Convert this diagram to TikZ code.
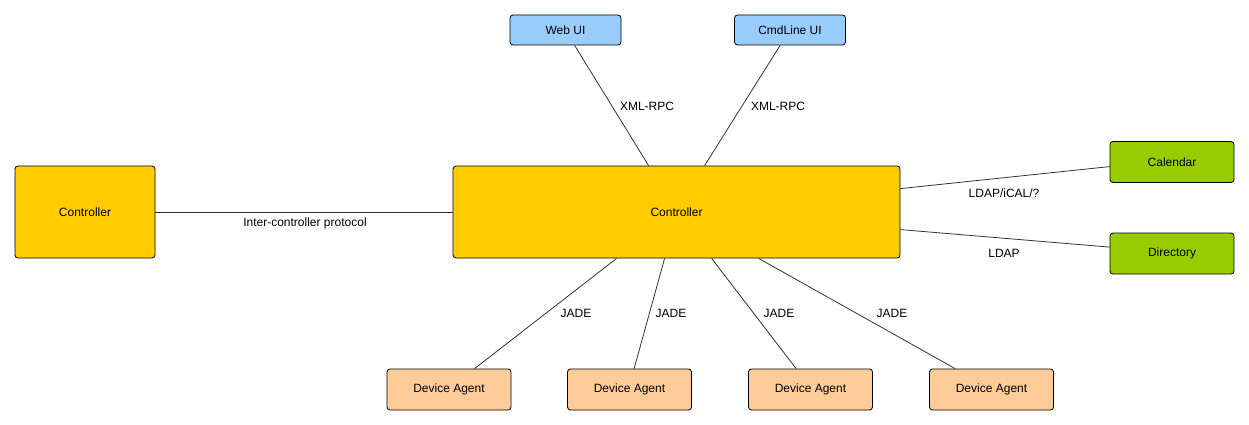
\documentclass[tikz,border=0pt]{standalone}
\usepackage{fontspec}
\setmainfont{Liberation Sans}
\begin{document}
\begin{tikzpicture}[x=1pt,y=-1pt,
  box/.style={draw=black,line width=0.8pt,rounded corners=3pt,inner sep=0pt,font=\fontsize{12}{14}\selectfont},
  ui/.style={box,fill=uiblue,minimum width=111pt,minimum height=30pt},
  ctrl/.style={box,fill=ctrlyellow,minimum height=92pt},
  ext/.style={box,fill=extgreen,minimum width=124pt,minimum height=41pt},
  agent/.style={box,fill=agentorange,minimum width=124pt,minimum height=41pt},
  conn/.style={draw=linegray,line width=0.8pt},
  lbl/.style={inner sep=0pt,font=\fontsize{12}{14}\selectfont}]
\definecolor{uiblue}{HTML}{99CCFF}
\definecolor{ctrlyellow}{HTML}{FFCC00}
\definecolor{extgreen}{HTML}{99CC00}
\definecolor{agentorange}{HTML}{FFCC99}
\definecolor{linegray}{HTML}{333333}
\fill[white] (0,0) rectangle (1249,425);
\useasboundingbox (0,0) rectangle (1249,425);

\node[ui] (web) at (565.5,30) {Web UI};
\node[ui] (cmd) at (790,30) {CmdLine UI};
\node[ctrl,minimum width=447pt] (main) at (676.5,212) {Controller};
\node[ctrl,minimum width=140pt] (left) at (85,212) {Controller};
\node[ext] (cal) at (1172,162) {Calendar};
\node[ext] (dir) at (1172,253.5) {Directory};
\node[agent] (a1) at (449,389.5) {Device Agent};
\node[agent] (a2) at (629.5,389.5) {Device Agent};
\node[agent] (a3) at (810.5,389.5) {Device Agent};
\node[agent] (a4) at (991.5,389.5) {Device Agent};

\draw[conn] ([xshift=65pt]web.south west) -- ([xshift=196pt]main.north west);
\draw[conn] ([xshift=46pt]cmd.south west) -- ([xshift=252pt]main.north west);
\draw[conn] (left.east) -- (main.west);
\draw[conn] ([yshift=-23pt]main.north east) -- ([yshift=-25.5pt]cal.north west);
\draw[conn] ([yshift=-64pt]main.north east) -- ([yshift=-14.5pt]dir.north west);
\draw[conn] ([xshift=164pt]main.south west) -- ([xshift=88pt]a1.north west);
\draw[conn] ([xshift=212pt]main.south west) -- ([xshift=67pt]a2.north west);
\draw[conn] ([xshift=259pt]main.south west) -- ([xshift=48pt]a3.north west);
\draw[conn] ([xshift=306pt]main.south west) -- ([xshift=26pt]a4.north west);

\node[lbl] (l1) at (647,106) {XML-RPC};
\node[lbl] (l2) at (778,106) {XML-RPC};
\node[lbl] (l3) at (305,223) {Inter-controller protocol};
\node[lbl] (l4) at (1004,193) {LDAP/iCAL/?};
\node[lbl] (l5) at (1004,253) {LDAP};
\node[lbl] (j1) at (576,313) {JADE};
\node[lbl] (j2) at (671,313) {JADE};
\node[lbl] (j3) at (779,313) {JADE};
\node[lbl] (j4) at (892,313) {JADE};
\end{tikzpicture}
\end{document}
